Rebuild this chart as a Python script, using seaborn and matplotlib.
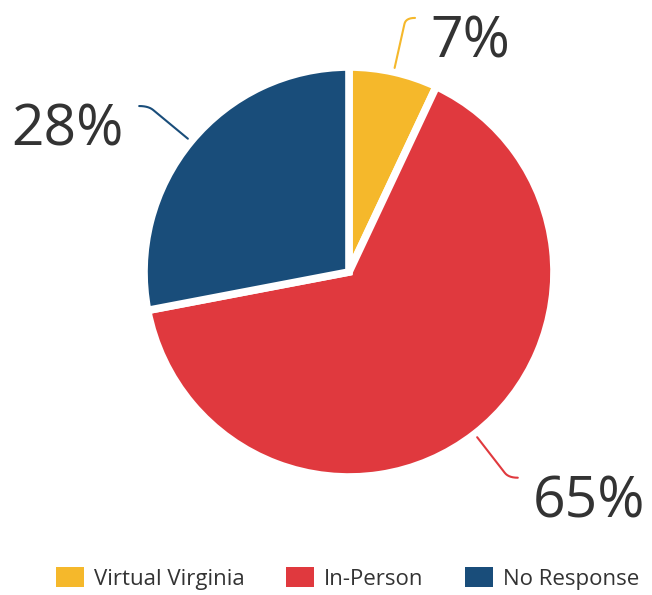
import numpy as np
import matplotlib
matplotlib.use("Agg")
import matplotlib.pyplot as plt
from matplotlib.patches import Patch
import seaborn as sns

# survey shares
labels = ["Virtual Virginia", "In-Person", "No Response"]
shares = [7, 65, 28]
colors = ["#F5B82B", "#E0393E", "#194D7A"]

sns.set_theme(style="white")
plt.rcParams["font.family"] = ["Open Sans", "DejaVu Sans"]

W, H, DPI = 652, 595, 100
cx, cy, unit = 349, 272, 205  # pie centre and radius in pixels

fig = plt.figure(figsize=(W / DPI, H / DPI), dpi=DPI)
ax = fig.add_axes([0, 0, 1, 1])

wedges, _ = ax.pie(
    shares,
    colors=sns.color_palette(colors),
    startangle=90,
    counterclock=False,
    radius=1.0,
    wedgeprops=dict(edgecolor="white", linewidth=5.5),
)

ax.set_xlim(-cx / unit, (W - cx) / unit)
ax.set_ylim(-(H - cy) / unit, cy / unit)
ax.set_aspect("auto")
ax.axis("off")

# leader lines + percentage labels
for w, val, col in zip(wedges, shares, colors):
    ang = np.deg2rad((w.theta1 + w.theta2) / 2)
    c, s = np.cos(ang), np.sin(ang)
    side = 1 if c >= 0 else -1
    r1, r2 = 1.02, 1.27
    x1, y1 = r1 * c, r1 * s
    x2, y2 = r2 * c, r2 * s
    # small rounded hook at the end
    t = np.linspace(0, 1, 8)
    xa, ya = (r2 - 0.03) * c, (r2 - 0.03) * s
    xh, yh = x2 + side * 0.045, y2
    bx = (1 - t) ** 2 * xa + 2 * (1 - t) * t * x2 + t ** 2 * xh
    by = (1 - t) ** 2 * ya + 2 * (1 - t) * t * y2 + t ** 2 * yh
    ax.plot(np.r_[x1, bx], np.r_[y1, by], color=col, lw=1.5,
            solid_capstyle="round")
    ax.text(xh + side * 0.075, yh + 0.015, f"{val}%",
            ha="left" if side > 0 else "right", va="top",
            fontsize=41, color="#333333")

handles = [Patch(facecolor=c, edgecolor="none", label=l)
           for c, l in zip(colors, labels)]
fig.legend(handles=handles, loc="lower center", ncol=3, frameon=False,
           fontsize=16, handlelength=1.26, handleheight=1.0,
           handletextpad=0.45, columnspacing=1.85,
           bbox_to_anchor=(0.533, -0.025), labelcolor="#333333")

fig.savefig("out.png", dpi=DPI)
